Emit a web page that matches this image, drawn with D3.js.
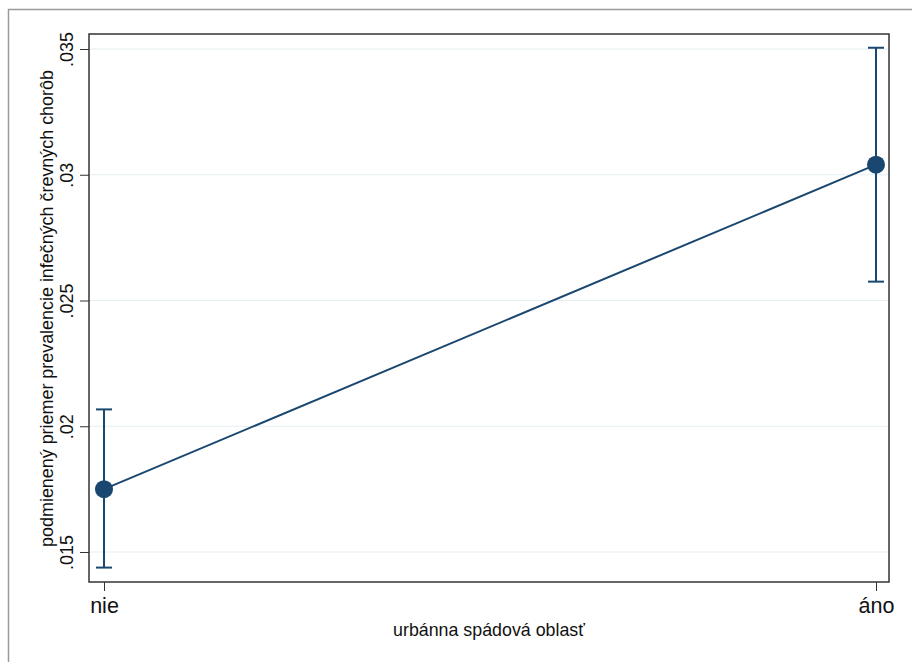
<!DOCTYPE html>
<html><head><meta charset="utf-8">
<script src="https://cdn.jsdelivr.net/npm/d3@7"></script>
<style>body{margin:0;background:#fff;}svg{display:block;font-family:"Liberation Sans",Arial,sans-serif;}</style>
</head><body><svg id="c" width="912" height="662"></svg>
<script>
const categories = ["nie", "áno"];
const means = [0.0175, 0.0304];
const lower = [0.01438, 0.02575];
const upper = [0.02067, 0.03505];
const yTicks = [0.015, 0.02, 0.025, 0.03, 0.035];
const yTickLabels = [".015", ".02", ".025", ".03", ".035"];
const xTitle = "urbánna spádová oblasť";
const yTitle = "podmienený priemer prevalencie infečných črevných chorôb";

const svg = d3.select("#c");
const L = 89, R = 889, T = 34, B = 582;
const color = "#1a476f";
const FF = "Liberation Sans, Arial, sans-serif";

function fit(sel, target) {
  const n = sel.node();
  const fs = +sel.attr("font-size");
  const w = n.getComputedTextLength();
  if (w > 0) sel.attr("font-size", fs * target / w);
}

svg.append("rect").attr("x", 8.5).attr("y", 9.5).attr("width", 920).attr("height", 680)
  .attr("fill", "#fff").attr("stroke", "#9a9a9a").attr("stroke-width", 1.5);

const x = d3.scalePoint().domain(categories).range([104, 876]);
const y = d3.scaleLinear().domain([0.015, 0.035]).range([552, 49]);

// grid
svg.append("g").selectAll("line").data(yTicks).join("line")
  .attr("x1", L).attr("x2", R).attr("y1", d => y(d)).attr("y2", d => y(d))
  .attr("stroke", "#e3eff0").attr("stroke-width", 1.2);

// frame
svg.append("rect").attr("x", L).attr("y", T).attr("width", R - L).attr("height", B - T)
  .attr("fill", "none").attr("stroke", "#333").attr("stroke-width", 1.5);

// y axis
const yAxis = svg.append("g").attr("transform", `translate(${L},0)`)
  .call(d3.axisLeft(y).tickValues(yTicks).tickSize(9).tickFormat((d, i) => yTickLabels[i]));
yAxis.select(".domain").remove();
yAxis.selectAll(".tick line").attr("stroke", "#333");
yAxis.selectAll(".tick text").attr("transform", "rotate(-90)").attr("x", 0).attr("y", -16)
  .attr("dy", 0).attr("text-anchor", "middle").attr("font-size", 17).attr("fill", "#111")
  .attr("font-family", FF);
{
  const t = yAxis.selectAll(".tick text").filter((d, i) => i === 4);
  const w = t.node().getComputedTextLength();
  const fs = 17 * 35 / w;
  yAxis.selectAll(".tick text").attr("font-size", fs);
}

// x axis
const xAxis = svg.append("g").attr("transform", `translate(0,${B})`)
  .call(d3.axisBottom(x).tickSize(9).tickSizeOuter(0));
xAxis.select(".domain").remove();
xAxis.selectAll(".tick line").attr("stroke", "#333");
xAxis.selectAll(".tick text").attr("y", 31).attr("dy", 0).attr("font-size", 22).attr("fill", "#111")
  .attr("font-family", FF);
{
  const t = xAxis.selectAll(".tick text").filter((d, i) => i === 1);
  const w = t.node().getComputedTextLength();
  xAxis.selectAll(".tick text").attr("font-size", 22 * 36 / w);
}

// titles
const xt = svg.append("text").attr("x", 489).attr("y", 636).attr("text-anchor", "middle")
  .attr("font-size", 18).attr("fill", "#111").text(xTitle);
fit(xt, 192);
const yt = svg.append("text").attr("transform", `translate(53,${(70 + 547) / 2}) rotate(-90)`)
  .attr("text-anchor", "middle").attr("font-size", 18).attr("fill", "#111").text(yTitle);
fit(yt, 477);

// error bars
const g = svg.append("g");
categories.forEach((c, i) => {
  const cx = x(c);
  g.append("line").attr("x1", cx).attr("x2", cx).attr("y1", y(lower[i])).attr("y2", y(upper[i]))
    .attr("stroke", color).attr("stroke-width", 2);
  [lower[i], upper[i]].forEach(v => {
    g.append("line").attr("x1", cx - 8).attr("x2", cx + 8).attr("y1", y(v)).attr("y2", y(v))
      .attr("stroke", color).attr("stroke-width", 2);
  });
});

// connecting line
g.append("path").datum(categories.map((c, i) => [x(c), y(means[i])]))
  .attr("d", d3.line()).attr("fill", "none").attr("stroke", color).attr("stroke-width", 2);

// markers
g.selectAll("circle").data(categories).join("circle")
  .attr("cx", d => x(d)).attr("cy", (d, i) => y(means[i])).attr("r", 9).attr("fill", color);
</script></body></html>
